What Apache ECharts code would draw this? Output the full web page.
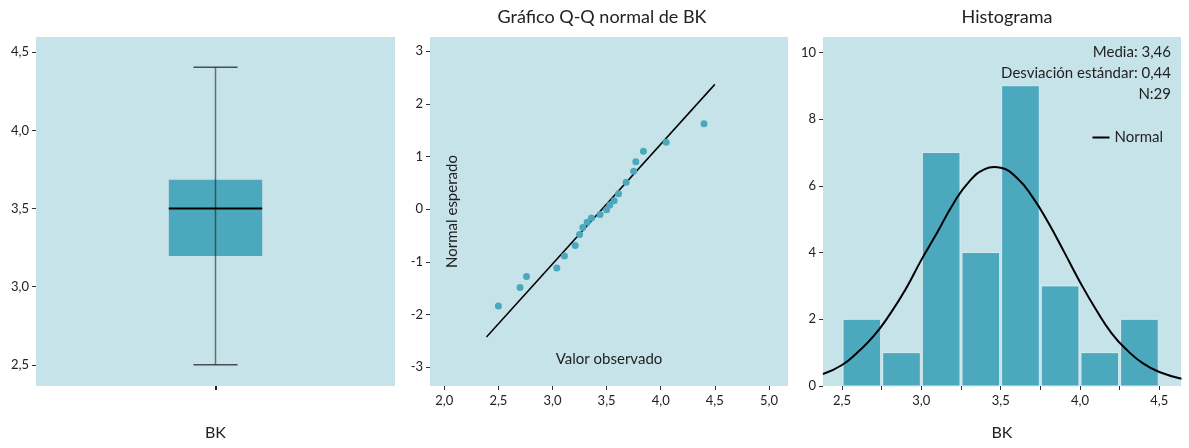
<!DOCTYPE html>
<html>
<head>
<meta charset="utf-8">
<script src="https://cdn.jsdelivr.net/npm/echarts@6/dist/echarts.min.js"></script>
<style>
  html, body { margin: 0; padding: 0; background: #fff; }
  #chart { width: 1189px; height: 448px; }
</style>
</head>
<body>
<div id="chart"></div>
<script>
// boxplot of BK: min, q1, median, q3, max
var boxCategory = ['BK'];
var boxStats = [2.5, 3.196, 3.5, 3.685, 4.404];
var boxTicks = [2.5, 3.0, 3.5, 4.0, 4.5];

// Q-Q plot points (observed value, expected normal)
var qqObserved = [2.50, 2.70, 2.76, 3.04, 3.11, 3.21, 3.25, 3.28, 3.32, 3.36, 3.44, 3.50, 3.53, 3.57, 3.61, 3.68, 3.75, 3.77, 3.84, 4.05, 4.40];
var qqExpected = [-1.84, -1.49, -1.28, -1.12, -0.89, -0.69, -0.48, -0.35, -0.25, -0.17, -0.10, -0.01, 0.08, 0.16, 0.29, 0.51, 0.72, 0.90, 1.10, 1.27, 1.62];
var qqLineX = [2.39, 4.5];
var qqLineY = [-2.43, 2.37];
var qqXTicks = [2.0, 2.5, 3.0, 3.5, 4.0, 4.5, 5.0];
var qqYTicks = [-3, -2, -1, 0, 1, 2, 3];

// histogram
var binStarts = [2.5, 2.75, 3.0, 3.25, 3.5, 3.75, 4.0, 4.25];
var binEnds = [2.75, 3.0, 3.25, 3.5, 3.75, 4.0, 4.25, 4.5];
var binCounts = [2, 1, 7, 4, 9, 3, 1, 2];
var normalX = [2.38, 2.5, 2.6, 2.7, 2.8, 2.9, 3.0, 3.1, 3.2, 3.3, 3.4, 3.46, 3.5, 3.6, 3.7, 3.8, 3.9, 4.0, 4.1, 4.2, 4.3, 4.4, 4.5, 4.64];
var normalY = [0.36, 0.63, 1.02, 1.5, 2.14, 2.89, 3.78, 4.6, 5.45, 6.12, 6.5, 6.56, 6.54, 6.25, 5.67, 4.9, 4.02, 3.12, 2.3, 1.58, 1.06, 0.67, 0.42, 0.22];
var histXTicks = [2.5, 2.75, 3.0, 3.25, 3.5, 3.75, 4.0, 4.25, 4.5];
var histXLabels = [2.5, 3.0, 3.5, 4.0, 4.5];
var histYTicks = [0, 2, 4, 6, 8, 10];
var statMean = 3.46, statSd = 0.44, statN = 29;

var FONT = 'Lato';
var BG = '#C7E3EA';
var FILL = '#4BA8BD';
var comma = function (v) { return v.toFixed(1).replace('.', ','); };

function valueAxis(idx, min, max, ticks, labels, fmt, margin) {
    return {
        type: 'value', gridIndex: idx, min: min, max: max,
        axisLine: { show: false, onZero: false },
        splitLine: { show: false },
        axisTick: { show: true, length: 4, customValues: ticks, lineStyle: { color: '#333', width: 1 } },
        axisLabel: { customValues: labels, margin: margin, color: '#222', fontFamily: FONT, fontSize: 13, formatter: fmt }
    };
}

var chart = echarts.init(document.getElementById('chart'));

var xBox = {
    type: 'category', gridIndex: 0, data: boxCategory,
    axisLine: { show: false, onZero: false },
    axisTick: { show: true, alignWithLabel: true, length: 4, lineStyle: { color: '#222', width: 2 } },
    axisLabel: { show: false },
    name: 'BK', nameLocation: 'middle', nameGap: 39,
    nameTextStyle: { fontFamily: FONT, fontSize: 16, color: '#222' }
};
var yBox = valueAxis(0, 2.364, 4.598, boxTicks, boxTicks, comma, 7);

var xQQ = valueAxis(1, 1.868, 5.176, qqXTicks, qqXTicks, comma, 8);
xQQ.name = 'Valor observado';
xQQ.nameLocation = 'middle';
xQQ.nameGap = -34;
xQQ.nameTextStyle = { fontFamily: FONT, fontSize: 15, color: '#222' };
var yQQ = valueAxis(1, -3.36, 3.27, qqYTicks, qqYTicks, function (v) { return String(v); }, 7);
yQQ.name = 'Normal esperado';
yQQ.nameLocation = 'middle';
yQQ.nameGap = -30;
yQQ.nameTextStyle = { fontFamily: FONT, fontSize: 15, color: '#222' };

var xHist = valueAxis(2, 2.380, 4.637, histXTicks, histXLabels, comma, 8);
xHist.name = 'BK';
xHist.nameLocation = 'middle';
xHist.nameGap = 39;
xHist.nameTextStyle = { fontFamily: FONT, fontSize: 16, color: '#222' };
var yHist = valueAxis(2, 0, 10.46, histYTicks, histYTicks, function (v) { return String(v); }, 7);

chart.setOption({
    animation: false,
    textStyle: { fontFamily: FONT },
    title: [{
        text: 'Gráfico Q-Q normal de BK', left: 597, top: 3, textAlign: 'center',
        textStyle: { fontFamily: FONT, fontSize: 18, fontWeight: 'normal', color: '#222' }
    }, {
        text: 'Histograma', left: 1002, top: 3, textAlign: 'center',
        textStyle: { fontFamily: FONT, fontSize: 18, fontWeight: 'normal', color: '#222' }
    }, {
        text: 'Media: ' + statMean.toFixed(2).replace('.', ',') + '\nDesviación estándar: ' + statSd.toFixed(2).replace('.', ',') + '\nN:' + statN,
        left: 1166, top: 37, textAlign: 'right',
        textStyle: { fontFamily: FONT, fontSize: 15, fontWeight: 'normal', color: '#222', lineHeight: 21 }
    }],
    legend: {
        data: [{ name: 'Normal', icon: 'rect' }], right: 21, top: 125,
        itemWidth: 17, itemHeight: 2, itemGap: 6,
        itemStyle: { color: '#000' },
        textStyle: { fontFamily: FONT, fontSize: 15, color: '#222' }
    },
    grid: [
        { left: 36, top: 37, width: 359, height: 349, show: true, backgroundColor: BG, borderWidth: 0 },
        { left: 430, top: 37, width: 358, height: 349, show: true, backgroundColor: BG, borderWidth: 0 },
        { left: 823, top: 37, width: 358, height: 349, show: true, backgroundColor: BG, borderWidth: 0 }
    ],
    xAxis: [xBox, xQQ, xHist],
    yAxis: [yBox, yQQ, yHist],
    series: [{
        type: 'custom', xAxisIndex: 0, yAxisIndex: 0,
        data: [[0].concat(boxStats)],
        encode: { x: 0, y: [1, 2, 3, 4, 5] },
        renderItem: function (params, api) {
            var band = api.size([1, 0])[0];
            var lo = api.coord([0, api.value(1)]);
            var q1 = api.coord([0, api.value(2)]);
            var md = api.coord([0, api.value(3)]);
            var q3 = api.coord([0, api.value(4)]);
            var hi = api.coord([0, api.value(5)]);
            var cx = md[0];
            var bw = band * 0.26, cw = band * 0.123;
            return {
                type: 'group',
                children: [
                    { type: 'rect', shape: { x: cx - bw / 2, y: q3[1], width: bw, height: q1[1] - q3[1] }, style: { fill: FILL } },
                    { type: 'line', shape: { x1: cx, y1: lo[1], x2: cx, y2: hi[1] }, style: { stroke: 'rgba(30,30,30,0.6)', lineWidth: 1.5 } },
                    { type: 'line', shape: { x1: cx - cw / 2, y1: lo[1], x2: cx + cw / 2, y2: lo[1] }, style: { stroke: 'rgba(30,30,30,0.75)', lineWidth: 1.5 } },
                    { type: 'line', shape: { x1: cx - cw / 2, y1: hi[1], x2: cx + cw / 2, y2: hi[1] }, style: { stroke: 'rgba(30,30,30,0.75)', lineWidth: 1.5 } },
                    { type: 'line', shape: { x1: cx - bw / 2, y1: md[1], x2: cx + bw / 2, y2: md[1] }, style: { stroke: '#000', lineWidth: 2 } }
                ]
            };
        }
    }, {
        type: 'line', xAxisIndex: 1, yAxisIndex: 1,
        data: qqLineX.map(function (x, i) { return [x, qqLineY[i]]; }),
        symbol: 'none', lineStyle: { color: '#000', width: 1.5 }, z: 2
    }, {
        type: 'scatter', xAxisIndex: 1, yAxisIndex: 1,
        data: qqObserved.map(function (x, i) { return [x, qqExpected[i]]; }),
        symbolSize: 7, itemStyle: { color: FILL, opacity: 1 }, z: 3
    }, {
        type: 'custom', xAxisIndex: 2, yAxisIndex: 2,
        data: binStarts.map(function (s, i) { return [s, binEnds[i], binCounts[i]]; }),
        encode: { x: [0, 1], y: 2 },
        renderItem: function (params, api) {
            var p0 = api.coord([api.value(0), api.value(2)]);
            var p1 = api.coord([api.value(1), 0]);
            return {
                type: 'rect',
                shape: { x: p0[0] + 1, y: p0[1], width: p1[0] - p0[0] - 2, height: p1[1] - p0[1] },
                style: { fill: FILL, stroke: '#d6ebf0', lineWidth: 1 }
            };
        }
    }, {
        name: 'Normal', type: 'line', xAxisIndex: 2, yAxisIndex: 2,
        data: normalX.map(function (x, i) { return [x, normalY[i]]; }),
        smooth: true, symbol: 'none', lineStyle: { color: '#000', width: 2 }, itemStyle: { color: '#000' }, z: 4
    }]
});
</script>
</body>
</html>
